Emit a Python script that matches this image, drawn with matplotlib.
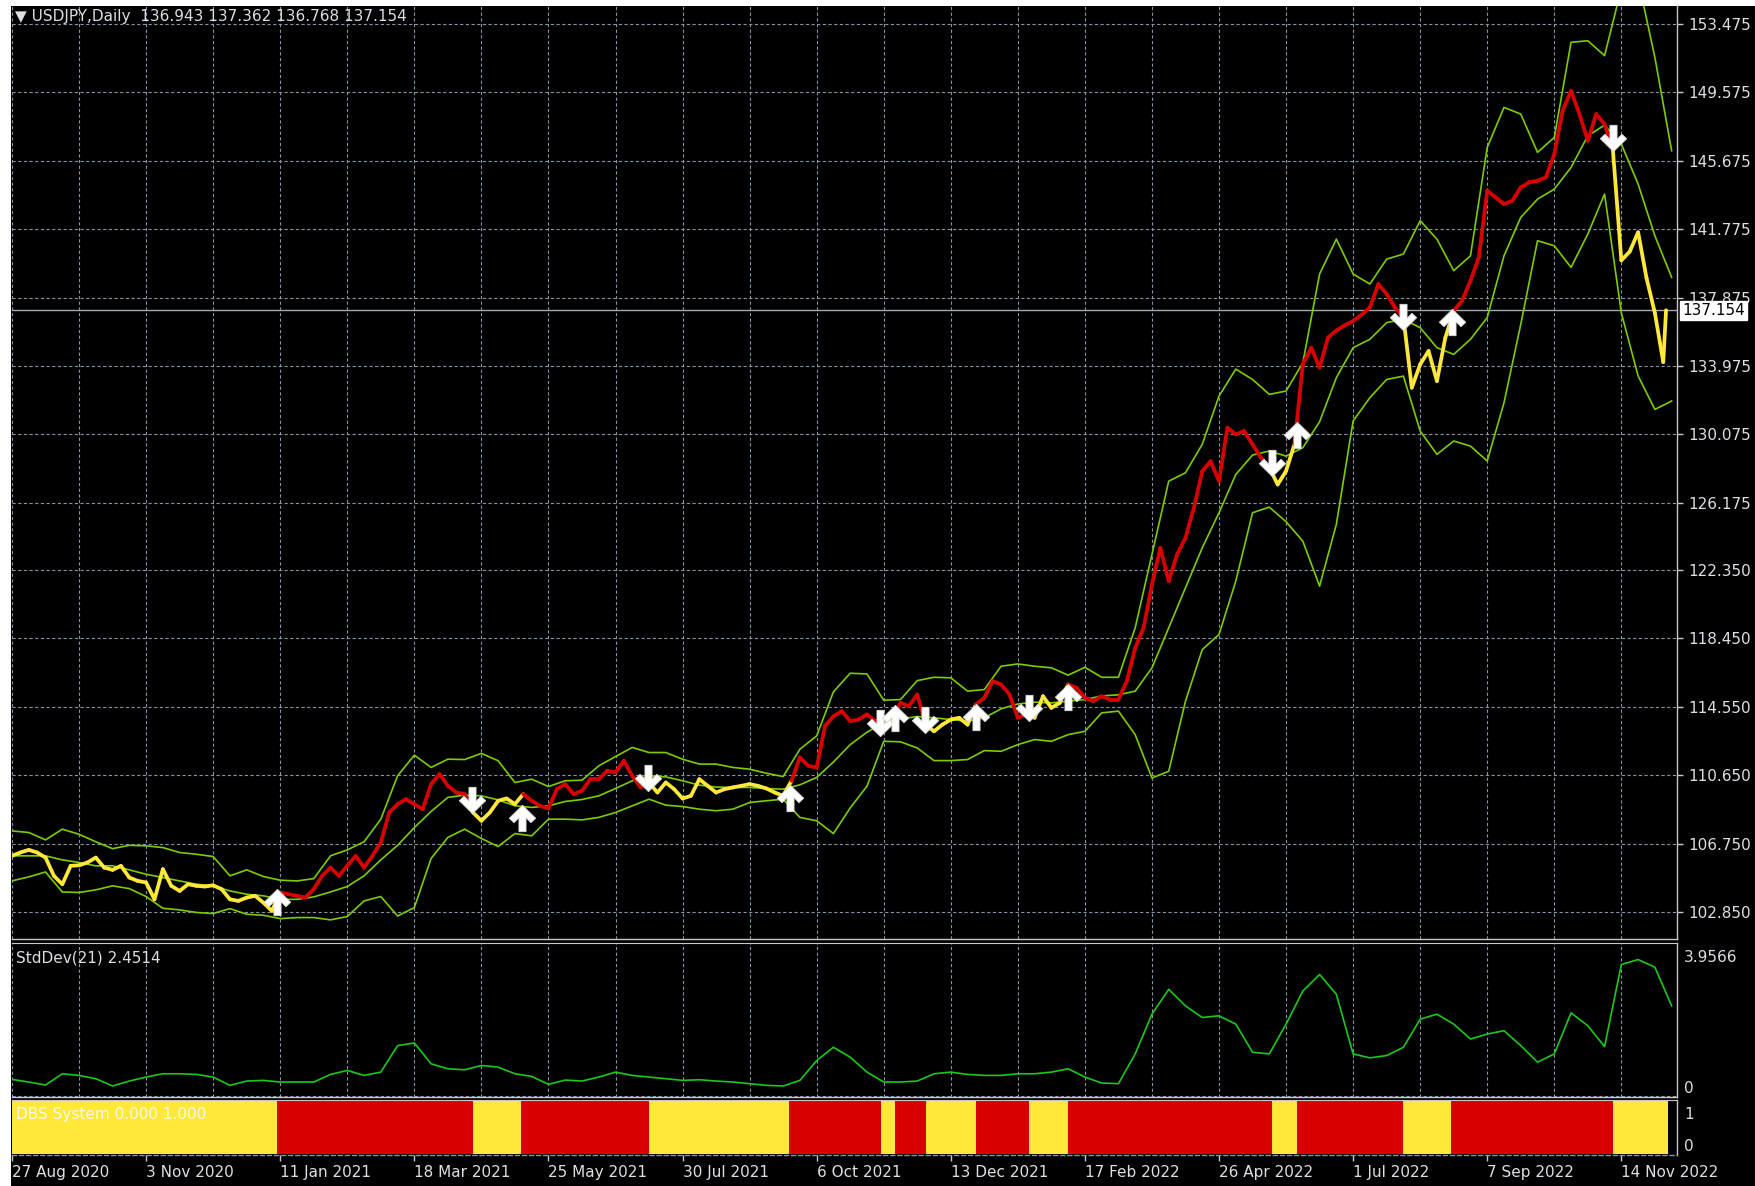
import numpy as np
import matplotlib
matplotlib.use("Agg")
import matplotlib.pyplot as plt
from matplotlib.collections import LineCollection
from matplotlib.path import Path
from matplotlib.patches import Rectangle

# ---------------- data (bar index = trading day counted from 27 Aug 2020) ----------------
date_labels = ["27 Aug 2020", "3 Nov 2020", "11 Jan 2021", "18 Mar 2021", "25 May 2021",
               "30 Jul 2021", "6 Oct 2021", "13 Dec 2021", "17 Feb 2022", "26 Apr 2022",
               "1 Jul 2022", "7 Sep 2022", "14 Nov 2022"]
date_label_bars = [0, 48, 96, 144, 192, 240, 288, 336, 384, 432, 480, 528, 576]

price_ticks = [102.850, 106.750, 110.650, 114.550, 118.450, 122.350, 126.175,
               130.075, 133.975, 137.875, 141.775, 145.675, 149.575, 153.475]

# closes sampled every 3 bars, plus the last bar
price_bars = list(range(0, 592, 3)) + [592]
price_close = [
    106.05, 106.24, 106.39, 106.24, 105.95, 104.91, 104.43, 105.48, 105.51, 105.67,
    105.95, 105.38, 105.25, 105.48, 104.81, 104.62, 104.53, 103.57, 105.29, 104.34,
    104.05, 104.43, 104.34, 104.30, 104.37, 104.15, 103.57, 103.48, 103.67, 103.77,
    103.38, 102.91, 103.96, 103.86, 103.77, 103.67, 104.15, 104.91, 105.38, 104.91,
    105.48, 106.05, 105.38, 106.05, 106.81, 108.52, 108.99, 109.28, 108.99, 108.71,
    110.14, 110.71, 110.04, 109.66, 109.57, 108.52, 108.05, 108.52, 109.19, 109.32,
    109.00, 109.57, 109.19, 108.90, 108.75, 109.85, 110.14, 109.57, 109.76, 110.42,
    110.42, 110.90, 110.80, 111.47, 110.61, 109.95, 110.23, 109.66, 110.23, 109.85,
    109.32, 109.47, 110.42, 110.04, 109.66, 109.85, 109.95, 110.04, 110.14, 110.04,
    109.89, 109.66, 109.47, 110.33, 111.66, 111.18, 111.09, 113.46, 114.00, 114.30,
    113.73, 113.82, 114.11, 113.73, 113.34, 113.92, 114.77, 114.58, 115.25, 113.53,
    113.15, 113.53, 113.82, 113.92, 113.53, 114.68, 115.06, 116.01, 115.82, 115.25,
    113.92, 114.11, 113.92, 115.15, 114.49, 114.77, 115.82, 115.63, 115.06, 114.87,
    115.15, 114.96, 114.96, 116.01, 117.91, 119.05, 121.52, 123.61, 121.71, 123.23,
    124.18, 125.89, 127.98, 128.55, 127.41, 130.46, 130.08, 130.27, 129.51, 128.75,
    128.18, 127.22, 127.99, 129.51, 134.07, 135.02, 133.88, 135.60, 136.00, 136.30,
    136.54, 136.90, 137.31, 138.65, 138.08, 137.31, 136.74, 132.74, 134.07, 134.83,
    133.12, 135.59, 137.12, 137.70, 138.84, 140.17, 143.97, 143.59, 143.21, 143.40,
    144.16, 144.45, 144.54, 144.73, 146.06, 148.53, 149.67, 148.34, 146.82, 148.34,
    147.77, 146.25, 140.00, 140.50, 141.60, 139.00, 137.00, 134.20, 137.154]
last_close = 137.154

# Bollinger bands and StdDev, sampled every 6 bars
band_bars = list(range(0, 595, 6))
bb_upper = [
    107.47, 107.38, 106.96, 107.57, 107.28, 106.85, 106.46, 106.65, 106.62, 106.52,
    106.24, 106.14, 106.01, 104.91, 105.25, 104.87, 104.66, 104.62, 104.75, 106.05,
    106.39, 106.85, 108.14, 110.61, 111.79, 111.09, 111.56, 111.54, 111.89, 111.47,
    110.23, 110.42, 110.00, 110.33, 110.36, 111.18, 111.71, 112.23, 111.94, 111.94,
    111.56, 111.28, 111.28, 111.09, 110.99, 110.76, 110.57, 112.13, 112.89, 115.40,
    116.46, 116.42, 114.92, 114.96, 116.04, 116.23, 116.20, 115.44, 115.53, 116.86,
    116.99, 116.86, 116.77, 116.35, 116.80, 116.23, 116.23, 119.05, 123.23, 127.41,
    127.89, 129.51, 132.26, 133.80, 133.21, 132.36, 132.55, 134.16, 139.22, 141.21,
    139.22, 138.65, 140.07, 140.36, 142.26, 141.21, 139.41, 140.26, 146.44, 148.72,
    148.34, 146.16, 147.01, 152.43, 152.52, 151.67, 155.50, 156.00, 151.57, 146.25]
bb_middle = [
    106.05, 106.05, 106.05, 105.82, 105.67, 105.48, 105.48, 105.25, 105.00, 104.81,
    104.62, 104.43, 104.34, 104.05, 103.86, 103.77, 103.57, 103.57, 103.71, 103.99,
    104.30, 104.91, 105.82, 106.65, 107.66, 108.58, 109.38, 109.51, 109.47, 109.24,
    108.90, 108.81, 108.90, 109.15, 109.26, 109.47, 109.89, 110.33, 110.61, 110.55,
    110.33, 110.08, 109.97, 109.95, 109.95, 109.89, 109.85, 110.10, 110.52, 111.40,
    112.39, 113.10, 113.63, 113.86, 113.99, 113.92, 113.82, 113.73, 113.92, 114.43,
    114.71, 114.81, 114.77, 114.87, 114.96, 115.17, 115.23, 115.44, 116.77, 119.05,
    121.33, 123.61, 125.61, 127.79, 128.90, 129.13, 128.84, 129.32, 130.80, 133.31,
    135.02, 135.50, 136.45, 136.64, 136.16, 135.02, 134.64, 135.50, 136.74, 140.26,
    142.45, 143.49, 144.06, 145.30, 147.10, 147.71, 146.63, 144.35, 141.40, 139.03]
bb_lower = [
    104.62, 104.85, 105.13, 103.99, 103.96, 104.11, 104.34, 104.18, 103.73, 103.06,
    102.97, 102.82, 102.76, 103.04, 102.72, 102.66, 102.47, 102.53, 102.53, 102.40,
    102.59, 103.48, 103.73, 102.62, 103.10, 105.90, 107.10, 107.57, 107.04, 106.58,
    107.32, 107.19, 108.14, 108.14, 108.10, 108.24, 108.52, 108.90, 109.28, 108.94,
    108.86, 108.71, 108.62, 108.71, 109.09, 109.19, 109.28, 108.24, 108.05, 107.32,
    108.78, 110.02, 112.58, 112.55, 112.20, 111.48, 111.48, 111.54, 112.05, 112.01,
    112.39, 112.68, 112.58, 112.96, 113.15, 114.20, 114.30, 112.96, 110.49, 110.87,
    114.87, 117.81, 118.67, 121.71, 125.61, 125.93, 125.10, 123.99, 121.43, 124.95,
    130.84, 132.17, 133.21, 133.40, 130.27, 128.94, 129.70, 129.41, 128.56, 131.88,
    136.35, 141.12, 140.83, 139.60, 141.50, 143.78, 137.00, 133.41, 131.50, 131.98]
stddev = [
    0.23, 0.15, 0.06, 0.40, 0.35, 0.25, 0.03, 0.18, 0.30, 0.40,
    0.40, 0.38, 0.30, 0.05, 0.18, 0.20, 0.15, 0.15, 0.15, 0.38,
    0.50, 0.35, 0.45, 1.25, 1.33, 0.70, 0.55, 0.52, 0.65, 0.60,
    0.40, 0.32, 0.08, 0.21, 0.18, 0.30, 0.45, 0.35, 0.30, 0.25,
    0.20, 0.22, 0.18, 0.15, 0.10, 0.05, 0.03, 0.20, 0.80, 1.20,
    0.90, 0.45, 0.15, 0.15, 0.18, 0.40, 0.45, 0.38, 0.35, 0.35,
    0.40, 0.40, 0.45, 0.55, 0.30, 0.12, 0.10, 1.00, 2.20, 2.95,
    2.45, 2.10, 2.15, 1.90, 1.05, 1.00, 1.90, 2.90, 3.40, 2.80,
    1.00, 0.88, 0.95, 1.20, 2.05, 2.20, 1.90, 1.45, 1.60, 1.70,
    1.25, 0.75, 1.00, 2.24, 1.85, 1.22, 3.70, 3.85, 3.62, 2.45]
stddev_max = 3.9566
stddev_last = 2.4514

# DBS System regime changes (first regime = yellow, then alternating)
signal_change_bars = [0, 95, 165, 182, 228, 278, 311, 316, 327, 345, 364, 378,
                      451, 460, 498, 515, 573]
last_bar = 592.7

# signal arrows
arrow_bars = [95, 164.5, 182.4, 227.7, 278.4, 310.8, 316, 326.8, 345, 364, 378,
              451, 460, 498, 515.3, 573]
arrow_prices = [103.43, 109.23, 108.19, 110.47, 109.33, 113.60, 113.89, 113.79,
                113.98, 114.46, 115.12, 128.43, 130.04, 136.79, 136.50, 146.96]
arrow_dirs = ["up", "down", "up", "down", "up", "down", "up", "down", "up", "down",
              "up", "down", "up", "down", "up", "down"]

# ---------------- styling ----------------
W, H, DPI = 1755, 1186, 100
YELLOW = "#FFE83A"
RED = "#D80000"
BAND = "#7CCD00"
STDC = "#1BC81B"
GRID = "#8893A4"
TXT = "#DCDFE4"
SEP = "#C8C8C8"
FS = 11
plt.rcParams["font.family"] = ["DejaVu Sans"]

fig = plt.figure(figsize=(W / DPI, H / DPI), dpi=DPI, facecolor="black")


def frac(l, t, r, b):
    return [l / W, 1 - b / H, (r - l) / W, (b - t) / H]


ax = fig.add_axes(frac(12, 6, 1677, 939))
ax2 = fig.add_axes(frac(12, 943, 1677, 1097), sharex=ax)
ax3 = fig.add_axes(frac(12, 1100, 1677, 1155), sharex=ax)
XMAX = (1677 - 12) / 2.794
dash = (0, (2.9, 2.2))

for a in (ax, ax2, ax3):
    a.set_facecolor("black")
    for s in ("top", "left"):
        a.spines[s].set_visible(False)
    for s in ("bottom", "right"):
        a.spines[s].set_color(SEP)
        a.spines[s].set_linewidth(1.0)
    a.yaxis.tick_right()
    a.tick_params(axis="y", colors=SEP, labelcolor=TXT, length=4, width=1,
                  pad=4, labelsize=FS)
    a.set_xlim(0, XMAX)

ax2.spines["top"].set_visible(True)
ax2.spines["top"].set_color(SEP)
ax3.spines["top"].set_visible(True)
ax3.spines["top"].set_color(SEP)
ax3.spines["bottom"].set_linestyle(dash)
ax3.spines["bottom"].set_color(GRID)

# vertical grid (every 24 bars) on main and stddev panels
grid_bars = np.arange(0, XMAX, 24)
for a in (ax, ax2):
    for g in grid_bars:
        a.axvline(g, color=GRID, lw=0.8, ls=dash, zorder=0.5)
for p in price_ticks:
    ax.axhline(p, color=GRID, lw=0.8, ls=dash, zorder=0.5)

# ---- main panel ----
ax.set_ylim(153.475 - 933 / 17.54 + 18 / 17.54, 153.475 + 18 / 17.54)
ax.set_yticks(price_ticks)
ax.set_yticklabels([f"{p:.3f}" for p in price_ticks])

ax.plot(band_bars, bb_upper, color=BAND, lw=1.2, zorder=2)
ax.plot(band_bars, bb_middle, color=BAND, lw=1.2, zorder=2)
ax.plot(band_bars, bb_lower, color=BAND, lw=1.2, zorder=2)

px = np.array(price_bars, dtype=float)
py = np.array(price_close)
segs = np.stack([np.column_stack([px[:-1], py[:-1]]),
                 np.column_stack([px[1:], py[1:]])], axis=1)
mids = (px[:-1] + px[1:]) / 2
reg = np.searchsorted(signal_change_bars, mids, side="right") - 1
seg_colors = [YELLOW if r % 2 == 0 else RED for r in reg]
ax.add_collection(LineCollection(segs, colors=seg_colors, linewidths=2.7,
                                 zorder=3, capstyle="round", joinstyle="round"))

# current price line and box
ax.axhline(last_close, color="#A2AAB6", lw=1.0, zorder=1.5)
ax.annotate(f"{last_close:.3f}", xy=(1.0, last_close),
            xycoords=("axes fraction", "data"), xytext=(5, 0),
            textcoords="offset pixels", va="center", ha="left", fontsize=FS,
            color="black", annotation_clip=False, zorder=8,
            bbox=dict(boxstyle="square,pad=0.12", fc="white", ec="white"))

# arrow markers (thick shaft with a wide chevron head)
up_verts = [(0, 1), (1.0, 0.02), (0.64, -0.32), (0.27, 0.06), (0.27, -1),
            (-0.27, -1), (-0.27, 0.06), (-0.64, -0.32), (-1.0, 0.02), (0, 1)]
up_path = Path(up_verts, closed=True)
down_path = Path([(x, -y) for x, y in up_verts], closed=True)
for b, p, d in zip(arrow_bars, arrow_prices, arrow_dirs):
    ax.plot([b], [p], marker=up_path if d == "up" else down_path, ms=19,
            mfc="white", mec="#D8D8D8", mew=0.6, zorder=5, ls="none")

ax.text(3 / 1665, 1 - 11 / 933, "\u25bc USDJPY,Daily  136.943 137.362 136.768 137.154",
        transform=ax.transAxes, ha="left", va="center", fontsize=FS, color=TXT,
        zorder=6)

# ---- StdDev panel ----
ax2.set_ylim(-(1097 - 1087) / 33.1, (1087 - 943) / 33.1)
ax2.set_yticks([0, stddev_max])
ax2.set_yticklabels(["0", f"{stddev_max:.4f}"])
ax2.tick_params(axis="y", length=0, pad=5)
ax2.axhline(ax2.get_ylim()[0] + 0.02, color=GRID, lw=0.8, ls=dash, zorder=0.5)
ax2.plot(band_bars, stddev, color=STDC, lw=1.2, zorder=2)
ax2.text(4 / 1665, 1 - 15 / 154, f"StdDev(21) {stddev_last:.4f}", transform=ax2.transAxes,
         ha="left", va="center", fontsize=FS, color=TXT)

# ---- DBS System panel ----
ylo, yhi = -(1155 - 1145) / 32, (1145 - 1100) / 32
ax3.set_ylim(ylo, yhi)
edges = list(signal_change_bars) + [last_bar]
for k in range(len(signal_change_bars)):
    ax3.bar(edges[k], yhi - ylo - 0.04, width=edges[k + 1] - edges[k], bottom=ylo + 0.02,
            align="edge", color=YELLOW if k % 2 == 0 else RED, lw=0, zorder=2)
ax3.set_yticks([0, 1])
ax3.set_yticklabels(["0", "1"])
ax3.tick_params(axis="y", length=0, pad=5)
ax3.text(4 / 1665, 1 - 15 / 55, "DBS System 0.000 1.000", transform=ax3.transAxes,
         ha="left", va="center", fontsize=FS, color="#FFFBE6", zorder=5)

# x ticks
for a in (ax, ax2):
    a.tick_params(axis="x", length=0, labelbottom=False)
ax3.set_xticks(date_label_bars)
ax3.set_xticklabels(date_labels, ha="left")
ax3.tick_params(axis="x", colors=SEP, labelcolor=TXT, length=4, width=1, pad=3,
                labelsize=FS)
ax.set_xlim(0, XMAX)

# white frame strips (top and left)
fig.add_artist(Rectangle((0, 1 - 6 / H), 1, 6 / H, transform=fig.transFigure,
                         facecolor="white", edgecolor="none", zorder=10))
fig.add_artist(Rectangle((0, 0), 11 / W, 1, transform=fig.transFigure,
                         facecolor="white", edgecolor="none", zorder=10))

fig.savefig("out.png", dpi=DPI, facecolor="black")
